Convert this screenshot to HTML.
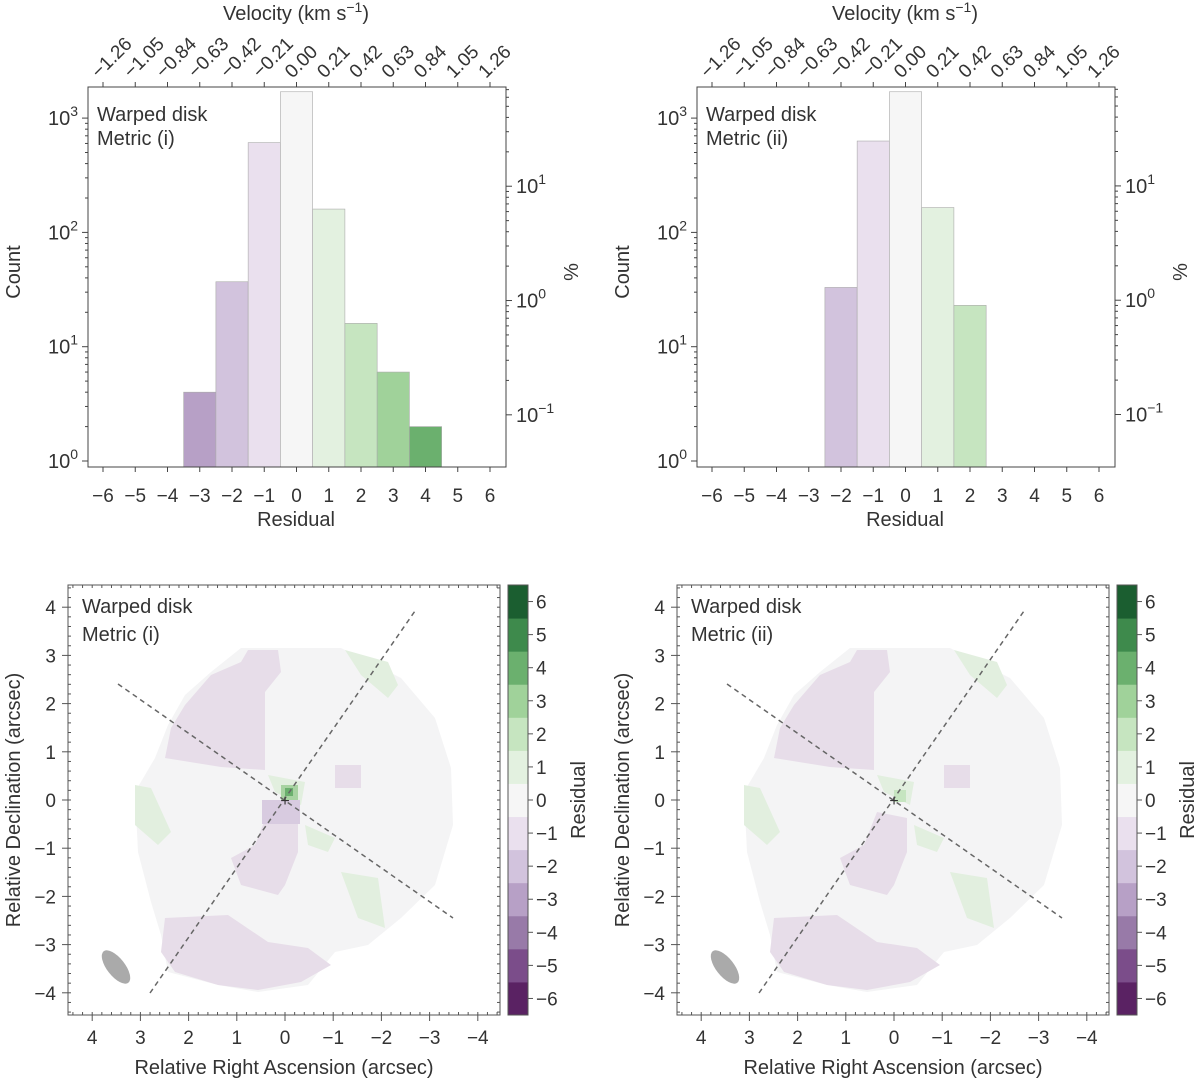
<!DOCTYPE html>
<html><head><meta charset="utf-8"><style>
body{margin:0;background:#fff;font-family:"Liberation Sans",sans-serif;}
svg text{font-family:"Liberation Sans",sans-serif;fill:#333;}
</style></head><body>
<svg id="fig" width="1200" height="1082" xmlns="http://www.w3.org/2000/svg">
<g id="maps"></g>
</svg>
<script>
const residualBins = [-3,-2,-1,0,1,2,3,4];
const countsMetricI = [4,37,610,1700,160,16,6,2];
const residualBinsII = [-2,-1,0,1,2];
const countsMetricII = [33,630,1700,165,23];
const xTicks = [-6,-5,-4,-3,-2,-1,0,1,2,3,4,5,6];
const velocityLabels = ["-1.26","-1.05","-0.84","-0.63","-0.42","-0.21","0.00","0.21","0.42","0.63","0.84","1.05","1.26"];
const yDecades = [0,1,2,3];
const pctDecades = [-1,0,1];
const cbLevels = [-6,-5,-4,-3,-2,-1,0,1,2,3,4,5,6];
const cbColors = ["#5a2263","#7b4d8a","#987aa8","#b7a0c6","#d2c3dd","#eae0ee","#f6f6f6","#e3f1e0","#c6e5c0","#a0d29a","#6bb06e","#3e8a4c","#1b5e30"];
const arcTicks = [4,3,2,1,0,-1,-2,-3,-4];

const NS="http://www.w3.org/2000/svg";
const svg=document.getElementById('fig');
function el(tag,attrs,parent,text){const e=document.createElementNS(NS,tag);for(const k in attrs)e.setAttribute(k,attrs[k]);if(text!==undefined)e.textContent=text;(parent||svg).appendChild(e);return e;}
function colorFor(v){return cbColors[cbLevels.indexOf(v)];}
function pow(parent,x,y,base,exp,anchor){const t=el('text',{x:x,y:y,'font-size':20,'text-anchor':anchor},parent);t.appendChild(document.createTextNode(base));const s=document.createElementNS(NS,'tspan');s.setAttribute('dy',-9);s.setAttribute('font-size',14);s.textContent=exp;t.appendChild(s);return t;}

function hist(x0,bins,counts,label,name){
  const g=el('g',{},svg);
  
  
  const W=418,top=87,bot=467;
  const xs=r=>x0+15+(r+6)*32.25;
  const ys=c=>461-Math.log10(c)*114.3;
  const total=counts.reduce((a,b)=>a+b,0);
  bins.forEach((b,i)=>{
    const r=el('rect',{x:xs(b)-16.1,y:ys(counts[i]),width:32.25,height:bot-ys(counts[i]),fill:colorFor(b),stroke:'#aaa','stroke-width':0.6},g);
    
    
  });
  el('rect',{x:x0,y:top,width:W,height:bot-top,fill:'none',stroke:'#444','stroke-width':1},g);
  xTicks.forEach((t,i)=>{
    const x=xs(t);
    el('line',{x1:x,x2:x,y1:bot,y2:bot+5,stroke:'#444'},g);
    el('text',{x:x,y:502,'font-size':19,'text-anchor':'middle'},g,t<0?'\u2212'+(-t):String(t));
    el('line',{x1:x,x2:x,y1:top,y2:top-5,stroke:'#444'},g);
    el('text',{x:0,y:0,'font-size':19,'text-anchor':'start',transform:`translate(${x-4},${top-8}) rotate(-45)`},g,velocityLabels[i].replace('-','\u2212'));
  });
  yDecades.forEach(d=>{
    const y=ys(Math.pow(10,d));
    el('line',{x1:x0,x2:x0-6,y1:y,y2:y,stroke:'#444'},g);
    pow(g,x0-40,y+7,'10',String(d),'end').setAttribute('text-anchor','start');
    for(let m=2;m<10;m++){const yy=ys(m*Math.pow(10,d));if(yy>top)el('line',{x1:x0,x2:x0-3,y1:yy,y2:yy,stroke:'#444'},g);}
  });
  pctDecades.forEach(d=>{
    const y=ys(Math.pow(10,d)*total/100);
    el('line',{x1:x0+W,x2:x0+W+6,y1:y,y2:y,stroke:'#444'},g);
    pow(g,x0+W+10,y+7,'10',String(d).replace('-','\u2212'),'start');
    for(let m=2;m<10;m++){const yy=ys(m*Math.pow(10,d)*total/100);if(yy>top&&yy<bot)el('line',{x1:x0+W,x2:x0+W+3,y1:yy,y2:yy,stroke:'#444'},g);}
  });
  el('text',{x:x0+208,y:526,'font-size':20,'text-anchor':'middle'},g,'Residual');
  const vt=el('text',{x:x0+208,y:20,'font-size':20,'text-anchor':'middle'},g,'Velocity (km s');
  const sp=document.createElementNS(NS,'tspan');sp.setAttribute('dy',-8);sp.setAttribute('font-size',14);sp.textContent='\u22121';vt.appendChild(sp);
  const sp2=document.createElementNS(NS,'tspan');sp2.setAttribute('dy',8);sp2.textContent=')';vt.appendChild(sp2);
  el('text',{x:0,y:0,'font-size':20,'text-anchor':'middle',transform:`translate(${x0-68},272) rotate(-90)`},g,'Count');
  el('text',{x:0,y:0,'font-size':20,'text-anchor':'middle',transform:`translate(${x0+W+72},272) rotate(-90)`},g,'%');
  el('text',{x:x0+9,y:121,'font-size':20},g,'Warped disk');
  el('text',{x:x0+9,y:145,'font-size':20},g,label);
}
hist(88,residualBins,countsMetricI,'Metric (i)','histogram-metric-i');
hist(697,residualBinsII,countsMetricII,'Metric (ii)','histogram-metric-ii');

const disc="241,648 341,648 401,678 435,718 451,768 453,825 435,885 401,918 368,945 335,952 308,985 258,992 218,985 168,972 161,935 151,902 138,852 135,792 155,758 168,725 185,695 211,672";
const purpleA="248,650 278,650 281,672 265,692 265,770 221,767 165,758 171,728 185,705 211,675 241,662";
const purpleB="268,812 298,818 298,852 285,885 278,895 241,885 231,858 255,845";
const purpleC="165,918 228,915 268,942 308,948 331,965 301,982 258,990 218,985 175,972 161,952";
function map(dx,label,name,strongCenter){
  const g=el('g',{transform:`translate(${dx},0)`},svg);
  
  
  el('rect',{x:68,y:585,width:432,height:430,fill:'#fff'},g);
  el('polygon',{points:disc,fill:'#f4f4f5'},g);
  [purpleA,purpleB,purpleC].forEach(p=>el('polygon',{points:p,fill:'#e7dde9'},g));
  el('rect',{x:335,y:765,width:26,height:23,fill:'#e7dde9'},g);
  ["345,650 388,662 398,685 388,698 361,675","135,785 151,788 171,832 158,845 135,825","305,825 335,838 328,852 308,845","341,872 378,878 385,928 358,918","268,775 305,782 301,805 275,792"].forEach(p=>el('polygon',{points:p,fill:'#e2efdf'},g));
  if(strongCenter){el('rect',{x:281,y:785,width:17,height:17,fill:'#a8d3a2'},g);el('rect',{x:285,y:788,width:8,height:8,fill:'#6bb06e'},g);el('rect',{x:262,y:800,width:38,height:24,fill:'#d8cbe0'},g);}
  else{el('rect',{x:285,y:790,width:12,height:12,fill:'#c6e5c0'},g);}
  el('line',{x1:118,y1:684,x2:453,y2:918,stroke:'#666','stroke-width':1.5,'stroke-dasharray':'5,4'},g);
  el('line',{x1:150,y1:993,x2:415,y2:611,stroke:'#666','stroke-width':1.5,'stroke-dasharray':'5,4'},g);
  el('text',{x:285,y:806,'font-size':16,'text-anchor':'middle',fill:'#333'},g,'+');
  el('ellipse',{cx:116,cy:967,rx:20,ry:9,fill:'#aaa',transform:'rotate(52 116 967)'},g);
  el('rect',{x:68,y:585,width:432,height:430,fill:'none',stroke:'#555','stroke-width':1},g);
  const ax=a=>285-a*48.2, ay=a=>800-a*48.2;
  for(let a=-4.4;a<=4.41;a+=0.2){const x=ax(a),y=ay(a);
    if(x>68&&x<500){el('line',{x1:x,x2:x,y1:1015,y2:1012,stroke:'#555'},g);el('line',{x1:x,x2:x,y1:585,y2:588,stroke:'#555'},g);}
    if(y>585&&y<1015){el('line',{x1:68,x2:71,y1:y,y2:y,stroke:'#555'},g);el('line',{x1:500,x2:497,y1:y,y2:y,stroke:'#555'},g);}}
  arcTicks.forEach(t=>{
    el('line',{x1:ax(t),x2:ax(t),y1:1015,y2:1021,stroke:'#555'},g);
    el('text',{x:ax(t),y:1044,'font-size':19,'text-anchor':'middle'},g,t<0?'\u2212'+(-t):String(t));
    el('line',{x1:68,x2:62,y1:ay(t),y2:ay(t),stroke:'#555'},g);
    el('text',{x:56,y:ay(t)+7,'font-size':19,'text-anchor':'end'},g,t<0?'\u2212'+(-t):String(t));
  });
  el('text',{x:284,y:1074,'font-size':20,'text-anchor':'middle'},g,'Relative Right Ascension (arcsec)');
  el('text',{x:0,y:0,'font-size':20,'text-anchor':'middle',transform:'translate(20,800) rotate(-90)'},g,'Relative Declination (arcsec)');
  el('text',{x:82,y:613,'font-size':20},g,'Warped disk');
  el('text',{x:82,y:641,'font-size':20},g,label);
  const cb=el('g',{},g);
  
  
  const h=430/13;
  cbLevels.forEach((v,i)=>{
    const y=1015-(i+1)*h;
    el('rect',{x:508,y:y,width:20,height:h+0.5,fill:cbColors[i]},cb);
    el('line',{x1:528,x2:533,y1:y+h/2,y2:y+h/2,stroke:'#555'},cb);
    el('text',{x:536,y:y+h/2+7,'font-size':19},cb,v<0?'\u2212'+(-v):String(v));
  });
  el('rect',{x:508,y:585,width:20,height:430,fill:'none',stroke:'#555'},cb);
  el('text',{x:0,y:0,'font-size':20,'text-anchor':'middle',transform:'translate(585,800) rotate(-90)'},cb,'Residual');
}
map(0,'Metric (i)','residual-map-metric-i',true);
map(609,'Metric (ii)','residual-map-metric-ii',false);
</script>
</body></html>
